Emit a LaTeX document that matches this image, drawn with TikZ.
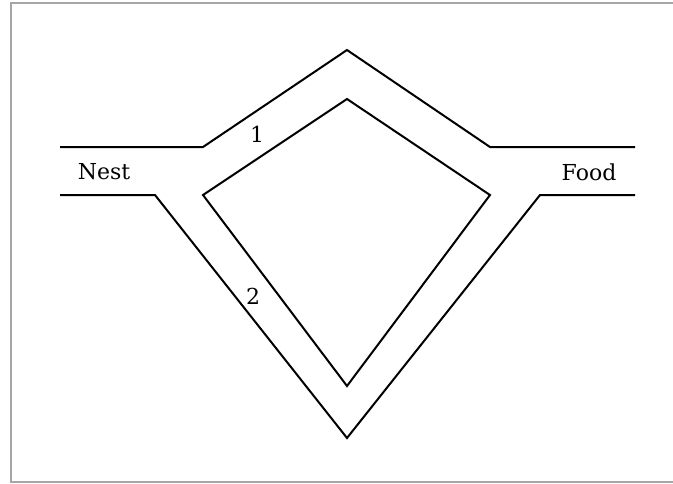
\documentclass[tikz,border=0pt]{standalone}
\usepackage{tikz}
\usepackage{fontspec}
\setmainfont{DejaVu Serif}
\usetikzlibrary{positioning}
\definecolor{framegray}{RGB}{166,166,166}

\begin{document}
\begin{tikzpicture}[
    x=1pt, y=-1pt,
    wall/.style={line width=2pt, line join=miter},
    frame/.style={draw=framegray, line width=2.5pt},
    tag/.style={inner sep=0pt, font=\fontsize{22}{26}\selectfont}
]
    \useasboundingbox (0,0) rectangle (673,483);
    % outer frame, open on the right
    \draw[frame] (673,3) -- (11,3) -- (11,482) -- (673,482);

    % upper wall: nest -> over the top -> food
    \draw[wall] (60,147) -- (203,147) -- (347,50) -- (490,147) -- (635,147);
    % lower wall: nest -> down the long branch -> food
    \draw[wall] (60,195) -- (155,195) -- (347,438) -- (540,195) -- (635,195);
    % island between the two branches
    \draw[wall] (347,99) -- (490,195) -- (347,386) -- (203,195) -- cycle;

    \node[tag] (nest) at (104,172) {Nest};
    \node[tag] (food) at (589,172) {Food};
    \node[tag] (short) at (257,134) {1};
    \node[tag] (long) at (253,296) {2};
\end{tikzpicture}
\end{document}
